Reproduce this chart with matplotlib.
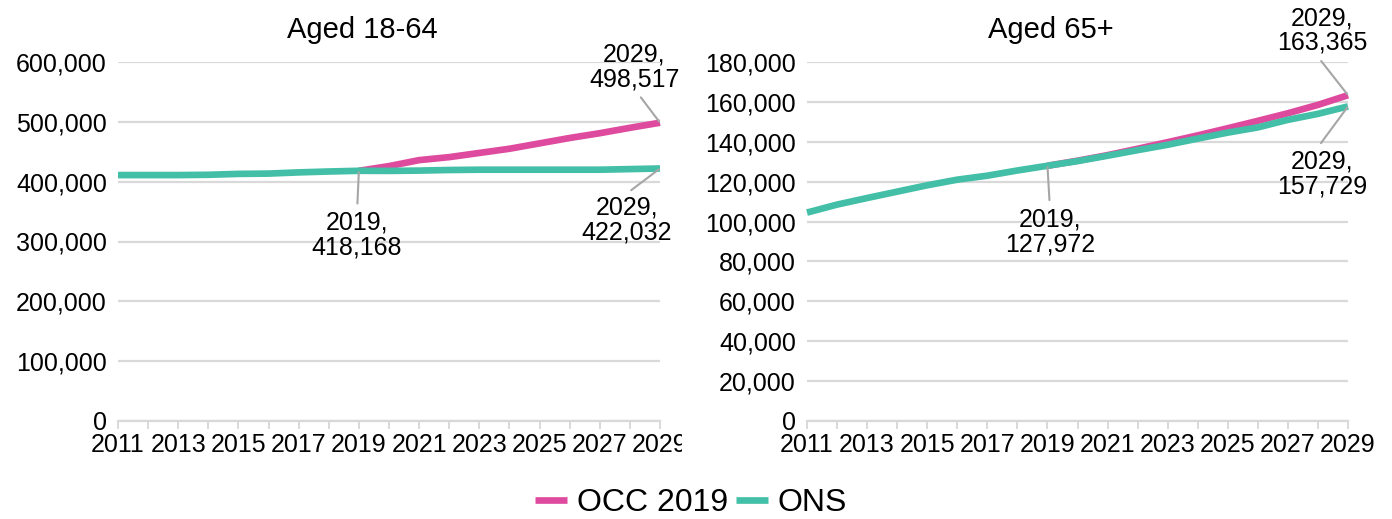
import matplotlib
matplotlib.use("Agg")
import matplotlib.pyplot as plt
from matplotlib.ticker import FuncFormatter, MultipleLocator
from matplotlib.transforms import Bbox, TransformedBbox

plt.rcParams['font.family'] = ['Liberation Sans', 'DejaVu Sans']

years = list(range(2011, 2030))
occ_years = list(range(2019, 2030))

# Aged 18-64
ons_1864 = [411000, 411000, 411000, 411500, 413000, 413500, 415500, 417000, 418168,
            418000, 418500, 419500, 420000, 420000, 420000, 420000, 420000, 421000, 422032]
occ_1864 = [418168, 426000, 436000, 441000, 448000, 455000, 464000, 473000, 481000,
            490000, 498517]

# Aged 65+
ons_65 = [104500, 108500, 111800, 115000, 118200, 121000, 123000, 125600, 127972,
          130300, 133000, 135800, 138500, 141600, 144600, 147200, 151000, 154000, 157729]
occ_65 = [127972, 130500, 133300, 136500, 139800, 143200, 146800, 150500, 154300,
          158500, 163365]

PINK = '#DE4A9E'
TEAL = '#43BFA7'
GRID = '#D9D9D9'

fig = plt.figure(figsize=(13.92, 5.19), dpi=100)
ax1 = fig.add_axes([118/1392, 1-421/519, 542/1392, 359/519])
ax2 = fig.add_axes([807/1392, 1-421/519, 541/1392, 359/519])

fmt = FuncFormatter(lambda v, p: f"{int(v):,}")


def style(ax, ymax, step, title):
    ax.set_xlim(2011, 2029)
    ax.set_ylim(0, ymax)
    ax.yaxis.set_major_locator(MultipleLocator(step))
    ax.yaxis.set_major_formatter(fmt)
    ax.set_xticks(range(2011, 2030, 2))
    ax.set_xticks(years, minor=True)
    ax.grid(axis='y', color=GRID, lw=1.6)
    ax.set_axisbelow(True)
    for s in ['top', 'right', 'left']:
        ax.spines[s].set_visible(False)
    ax.spines['bottom'].set_color(GRID)
    ax.spines['bottom'].set_linewidth(1.6)
    ax.tick_params(axis='y', length=0, labelsize=18, pad=8)
    ax.tick_params(axis='x', which='both', length=6, width=1.4, color=GRID,
                   labelsize=18, pad=3)
    ax.set_title(title, fontsize=21, x=0.45, pad=17)


style(ax1, 600000, 100000, 'Aged 18-64')
style(ax2, 180000, 20000, 'Aged 65+')

for ax, ons, occ in [(ax1, ons_1864, occ_1864), (ax2, ons_65, occ_65)]:
    ax.plot(occ_years, occ, color=PINK, lw=4.8, solid_capstyle='butt', clip_on=False,
            label='OCC 2019', zorder=3)
    ax.plot(years, ons, color=TEAL, lw=4.8, solid_capstyle='butt', clip_on=False,
            label='ONS', zorder=3)


def note(ax, x, y, tx, ty, rel):
    ax.annotate(f"{x},\n{y:,}", xy=(x, y), xytext=(tx, ty), fontsize=18,
                ha='center', va='center', linespacing=1.05, annotation_clip=False,
                arrowprops=dict(arrowstyle='-', color='#A6A6A6', lw=1.5,
                                relpos=rel, shrinkA=3, shrinkB=1))


note(ax1, 2019, 418168, 2018.94, 311000, (0.5, 1.0))
note(ax1, 2029, 498517, 2028.15, 592000, (0.52, 0.0))
note(ax1, 2029, 422032, 2027.9, 336000, (0.47, 1.0))
note(ax2, 2019, 127972, 2019.08, 95000, (0.5, 1.0))
note(ax2, 2029, 163365, 2028.13, 195800, (0.44, 0.0))
note(ax2, 2029, 157729, 2028.13, 124000, (0.44, 1.0))

# left chart's last year label is cut off in the original
clip = TransformedBbox(Bbox([[0, 0], [682/1392, 1]]), fig.transFigure)
for lab in ax1.get_xticklabels():
    lab.set_clip_box(clip)
    lab.set_clip_on(True)

handles, labels = ax1.get_legend_handles_labels()
fig.legend(handles, labels, loc='center', bbox_to_anchor=(691/1392, 1-503/519),
           ncol=2, frameon=False, fontsize=23, handlelength=1.0, handletextpad=0.3,
           columnspacing=0.25, borderaxespad=0)

fig.savefig('out.png', dpi=100)
